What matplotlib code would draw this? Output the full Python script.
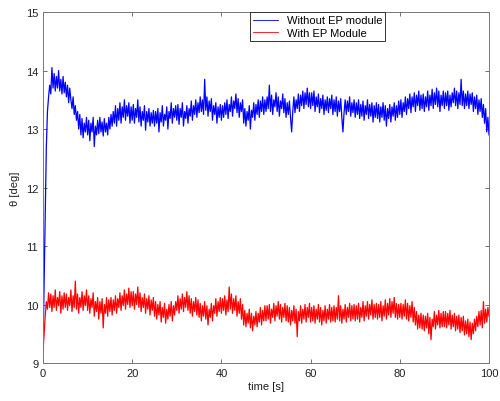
import numpy as np
import matplotlib
matplotlib.use("Agg")
import matplotlib.pyplot as plt

plt.rcParams['font.family'] = ['Liberation Sans', 'DejaVu Sans']

theta_without = [
    9.20, 10.40, 11.60, 12.70, 13.30, 13.55, 13.75, 13.60, 14.05, 13.70, 13.95, 13.65, 13.90, 13.70, 14.00, 13.65, 13.85, 13.60, 13.90, 13.62,
    13.80, 13.55, 13.75, 13.45, 13.70, 13.50, 13.35, 13.55, 13.25, 13.40, 13.15, 13.30, 13.00, 13.25, 12.90, 13.18, 12.85, 13.10, 12.95, 13.20,
    12.90, 13.15, 12.80, 13.10, 12.95, 13.20, 12.70, 13.05, 12.90, 13.15, 12.92, 13.20, 12.95, 13.12, 12.88, 13.18, 12.95, 13.10, 12.90, 13.20,
    13.00, 13.25, 13.05, 13.30, 13.10, 13.40, 13.05, 13.35, 13.15, 13.45, 13.10, 13.38, 13.20, 13.50, 13.15, 13.40, 13.22, 13.45, 13.10, 13.38,
    13.15, 13.42, 13.10, 13.35, 13.20, 13.50, 13.12, 13.38, 13.05, 13.30, 13.15, 13.40, 12.98, 13.30, 13.12, 13.35, 13.05, 13.28, 13.10, 13.32,
    13.05, 13.30, 13.10, 13.35, 12.95, 13.28, 13.12, 13.40, 13.05, 13.25, 13.15, 13.38, 13.00, 13.30, 13.18, 13.45, 13.10, 13.35, 13.20, 13.40,
    13.15, 13.42, 13.08, 13.35, 13.20, 13.45, 13.05, 13.30, 13.18, 13.40, 13.10, 13.35, 13.22, 13.48, 13.15, 13.40, 13.25, 13.50, 13.20, 13.45,
    13.28, 13.55, 13.30, 13.50, 13.25, 13.85, 13.32, 13.55, 13.22, 13.48, 13.30, 13.52, 13.15, 13.40, 13.25, 13.45, 13.10, 13.38, 13.20, 13.42,
    13.15, 13.40, 13.20, 13.45, 13.25, 13.50, 13.18, 13.42, 13.30, 13.55, 13.22, 13.48, 13.35, 13.60, 13.28, 13.52, 13.20, 13.45, 13.30, 13.50,
    13.10, 13.35, 13.05, 13.30, 13.15, 13.40, 13.00, 13.32, 13.20, 13.45, 13.15, 13.42, 13.25, 13.50, 13.20, 13.48, 13.30, 13.55, 13.25, 13.50,
    13.30, 13.55, 13.35, 13.75, 13.30, 13.58, 13.25, 13.50, 13.38, 13.62, 13.30, 13.55, 13.22, 13.48, 13.35, 13.60, 13.28, 13.52, 13.20, 13.45,
    13.25, 13.48, 13.20, 12.95, 13.30, 13.55, 13.28, 13.50, 13.35, 13.60, 13.30, 13.58, 13.40, 13.65, 13.35, 13.62, 13.42, 13.70, 13.38, 13.62,
    13.35, 13.62, 13.40, 13.65, 13.30, 13.55, 13.38, 13.60, 13.28, 13.52, 13.35, 13.58, 13.25, 13.50, 13.32, 13.55, 13.28, 13.52, 13.35, 13.58,
    13.25, 13.50, 13.30, 13.55, 13.22, 13.48, 13.30, 13.52, 13.20, 12.95, 13.28, 13.50, 13.25, 13.48, 13.30, 13.55, 13.22, 13.45, 13.28, 13.50,
    13.20, 13.45, 13.25, 13.50, 13.18, 13.42, 13.22, 13.48, 13.15, 13.40, 13.25, 13.50, 13.18, 13.42, 13.22, 13.45, 13.12, 13.40, 13.20, 13.45,
    13.18, 13.42, 13.12, 13.38, 13.20, 13.45, 13.15, 13.40, 13.05, 13.35, 13.18, 13.42, 13.12, 13.38, 13.22, 13.45, 13.15, 13.40, 13.20, 13.48,
    13.25, 13.50, 13.20, 13.45, 13.30, 13.55, 13.25, 13.52, 13.35, 13.60, 13.28, 13.55, 13.38, 13.62, 13.30, 13.58, 13.40, 13.65, 13.32, 13.58,
    13.35, 13.60, 13.30, 13.55, 13.38, 13.65, 13.32, 13.58, 13.40, 13.68, 13.35, 13.62, 13.42, 13.70, 13.38, 13.65, 13.30, 13.58, 13.40, 13.65,
    13.35, 13.62, 13.40, 13.65, 13.32, 13.58, 13.38, 13.62, 13.45, 13.70, 13.40, 13.65, 13.35, 13.62, 13.42, 13.85, 13.40, 13.65, 13.35, 13.60,
    13.40, 13.65, 13.35, 13.60, 13.42, 13.62, 13.30, 13.55, 13.35, 13.58, 13.25, 13.50, 13.30, 13.52, 13.20, 13.42, 13.10, 13.35, 12.95, 13.20,
    12.90,
]

# theta with EP module [deg], same sampling
theta_with = [
    9.20, 9.50, 9.80, 10.05, 9.92, 10.20, 9.95, 10.18, 9.88, 10.15, 9.95, 10.25, 9.90, 10.12, 9.98, 10.22, 9.85, 10.15, 9.92, 10.20,
    9.95, 10.18, 9.90, 10.12, 9.98, 10.25, 9.88, 10.15, 9.95, 10.40, 9.92, 10.18, 9.85, 10.12, 9.95, 10.22, 9.90, 10.15, 9.98, 10.25,
    9.90, 10.15, 9.85, 10.10, 9.95, 10.20, 9.80, 10.05, 9.88, 10.12, 9.75, 10.05, 9.85, 10.10, 9.60, 10.00, 9.85, 10.12, 9.80, 10.08,
    9.88, 10.12, 9.82, 10.08, 9.90, 10.15, 9.85, 10.10, 9.95, 10.20, 9.90, 10.15, 9.98, 10.25, 9.92, 10.18, 10.00, 10.28, 9.95, 10.22,
    9.98, 10.22, 9.92, 10.18, 10.00, 10.30, 9.95, 10.20, 9.88, 10.12, 9.95, 10.18, 9.85, 10.10, 9.92, 10.15, 9.82, 10.08, 9.90, 10.12,
    9.80, 10.05, 9.75, 10.00, 9.82, 10.05, 9.70, 9.95, 9.78, 10.02, 9.68, 9.92, 9.75, 10.00, 9.80, 10.05, 9.72, 9.98, 9.82, 10.05,
    9.90, 10.15, 9.85, 10.10, 9.92, 10.18, 9.88, 10.12, 9.95, 10.22, 9.90, 10.15, 9.85, 10.10, 9.80, 10.05, 9.88, 10.12, 9.82, 10.08,
    9.78, 10.02, 9.72, 9.98, 9.80, 10.05, 9.75, 9.98, 9.65, 9.92, 9.78, 10.02, 9.72, 9.98, 9.85, 10.10, 9.80, 10.05, 9.88, 10.12,
    9.85, 10.10, 9.90, 10.15, 9.82, 10.08, 9.88, 10.30, 9.92, 10.18, 9.85, 10.10, 9.90, 10.15, 9.80, 10.05, 9.85, 10.10, 9.75, 10.00,
    9.65, 9.90, 9.62, 9.85, 9.68, 9.92, 9.60, 9.85, 9.55, 9.80, 9.65, 9.88, 9.62, 9.85, 9.70, 9.95, 9.65, 9.90, 9.72, 9.98,
    9.72, 9.98, 9.75, 10.00, 9.68, 9.92, 9.78, 10.02, 9.72, 9.98, 9.80, 10.05, 9.75, 10.00, 9.70, 9.95, 9.78, 10.02, 9.72, 9.98,
    9.70, 9.95, 9.65, 9.90, 9.72, 9.98, 9.68, 9.92, 9.45, 9.88, 9.72, 9.98, 9.68, 9.92, 9.75, 10.00, 9.70, 9.95, 9.78, 10.02,
    9.70, 9.95, 9.72, 9.98, 9.68, 9.92, 9.75, 10.00, 9.70, 9.95, 9.65, 9.90, 9.72, 9.98, 9.68, 9.92, 9.75, 10.00, 9.70, 9.95,
    9.72, 9.98, 9.70, 9.95, 9.75, 10.15, 9.72, 9.98, 9.68, 9.92, 9.75, 10.00, 9.70, 9.95, 9.78, 10.02, 9.72, 9.98, 9.75, 10.00,
    9.72, 9.98, 9.75, 10.02, 9.70, 9.95, 9.78, 10.05, 9.72, 9.98, 9.80, 10.05, 9.75, 10.00, 9.82, 10.08, 9.75, 10.00, 9.78, 10.02,
    9.75, 10.00, 9.78, 10.05, 9.72, 9.98, 9.80, 10.08, 9.75, 10.02, 9.82, 10.10, 9.78, 10.05, 9.85, 10.12, 9.78, 10.02, 9.75, 10.00,
    9.78, 10.02, 9.75, 10.00, 9.80, 10.08, 9.75, 10.02, 9.72, 9.98, 9.78, 10.05, 9.70, 9.95, 9.65, 9.88, 9.58, 9.82, 9.60, 9.85,
    9.58, 9.82, 9.55, 9.80, 9.60, 9.85, 9.50, 9.78, 9.40, 9.75, 9.62, 9.88, 9.58, 9.82, 9.65, 9.90, 9.60, 9.85, 9.62, 9.88,
    9.62, 9.88, 9.60, 9.85, 9.65, 9.90, 9.58, 9.82, 9.62, 9.85, 9.55, 9.80, 9.58, 9.82, 9.52, 9.78, 9.55, 9.80, 9.48, 9.72,
    9.50, 9.75, 9.45, 9.70, 9.40, 9.68, 9.50, 9.75, 9.55, 9.80, 9.62, 9.88, 9.65, 9.90, 9.60, 10.05, 9.68, 9.92, 9.70, 9.95,
    9.80,
]

labels = ["Without EP module", "With EP Module"]

t_without = np.linspace(0, 100, len(theta_without))
t_with = np.linspace(0, 100, len(theta_with))

fig = plt.figure(figsize=(5.0, 4.02), dpi=100)
ax = fig.add_axes([0.086, 0.0945, 0.892, 0.873])

ax.plot(t_without, theta_without, color="#0000ff", lw=0.9, label=labels[0])
ax.plot(t_with, theta_with, color="#ff0000", lw=0.9, label=labels[1])

ax.set_xlim(0, 100)
ax.set_ylim(9, 15)
ax.set_xticks([0, 20, 40, 60, 80, 100])
ax.set_yticks([9, 10, 11, 12, 13, 14, 15])
ax.tick_params(direction="in", top=True, right=True, labelsize=8, length=3,
               width=0.6, color="#555555", labelcolor="#222222")
for s in ax.spines.values():
    s.set_linewidth(0.7)
    s.set_color("#777777")

ax.set_xlabel("time [s]", fontsize=8, color="#222222", labelpad=2)
ax.set_ylabel("θ [deg]", fontsize=8, color="#222222", labelpad=4)

leg = ax.legend(loc="upper left", bbox_to_anchor=(0.464, 1.0), fontsize=8,
                fancybox=False, framealpha=1, edgecolor="#333333",
                borderaxespad=0, handlelength=2.2, borderpad=0.3,
                labelspacing=0.2)
leg.get_frame().set_linewidth(0.7)
for line in leg.get_lines():
    line.set_linewidth(0.6)

fig.savefig("out.png", dpi=100)
